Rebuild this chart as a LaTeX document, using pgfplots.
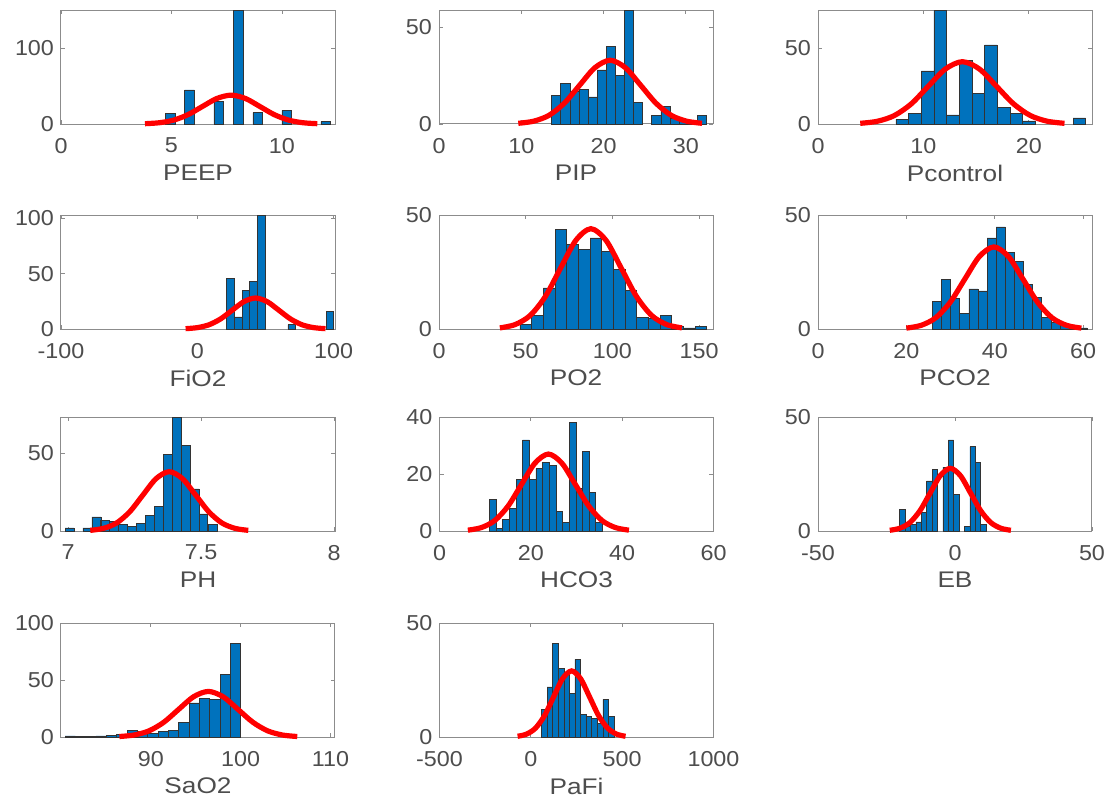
\documentclass[border=0pt]{standalone}
\usepackage{pgfplots}
\pgfplotsset{compat=1.18}
\usepackage{fontspec}
\setmainfont{Liberation Sans}[FakeStretch=1.08]
\newfontfamily\labfont{Liberation Sans}[FakeStretch=1.16]
\definecolor{mblue}{HTML}{0072BD}
\definecolor{axgray}{HTML}{8C8C8C}
\definecolor{txtgray}{HTML}{4D4D4D}
\newcommand{\fs}{\fontsize{10.8}{12}\selectfont}
\newcommand{\fl}{\labfont\fontsize{11.3}{13}\selectfont}
\pgfplotsset{
 hp/.style={scale only axis, width=137pt, height=57pt, ymin=0, clip=false,
   axis line style={axgray, line width=0.5pt}, tick style={axgray, line width=0.4pt},
   tick align=inside, major tick length=2.2pt,
   ticklabel style={font=\fs, text=txtgray}, xlabel style={font=\fl, text=txtgray, yshift=1pt},
   scaled ticks=false, /pgf/number format/1000 sep={}, /pgf/number format/assume math mode=true,
   xticklabel style={yshift=-3.5pt}, anchor=north west},
 bars/.style={ybar, bar shift=0pt, fill=mblue, draw=black!80, line width=0.3pt},
 fit/.style={red, line width=2.6pt, smooth, mark=none},
}
\begin{document}
\begin{tikzpicture}
\useasboundingbox (0,0) rectangle (555pt,-402pt);
% PEEP
\begin{axis}[hp, at={(30.5pt,-5pt)}, xmin=0, xmax=12.4, ymax=150, xtick={0,5,10}, ytick={0,100}, xlabel={PEEP}]
\addplot[bars, bar width=0.44] coordinates {(4.94,14) (5.82,45) (7.14,30) (8.02,150) (8.90,15) (10.22,18) (11.98,3)};
\addplot[fit] coordinates {(3.8,0.42) (4.45,1.67) (5.1,5.14) (5.75,12.34) (6.4,23.05) (7.05,33.54) (7.7,38) (8.35,33.54) (9.0,23.05) (9.65,12.34) (10.3,5.14) (10.95,1.67) (11.6,0.42)};
\end{axis}
% PIP
\begin{axis}[hp, at={(219.5pt,-5pt)}, xmin=0, xmax=33.3, ymax=59, xtick={0,10,20,30}, ytick={0,50}, xlabel={PIP}]
\addplot[bars, bar width=1.106] coordinates {(14.24,15) (15.35,21) (16.46,17) (17.56,18) (18.67,14) (19.77,28) (20.88,40) (21.98,25) (23.09,59) (24.20,11) (26.41,4.6) (27.52,9) (28.62,3) (29.73,2) (30.83,2) (31.94,4.6)};
\addplot[fit] coordinates {(9.64,0.37) (11.5,1.45) (13.36,4.46) (15.22,10.72) (17.08,20.01) (18.94,29.12) (20.8,33) (22.66,29.12) (24.52,20.01) (26.38,10.72) (28.24,4.46) (30.1,1.45) (31.96,0.37)};
\end{axis}
% Pcontrol
\begin{axis}[hp, at={(409pt,-5pt)}, xmin=0, xmax=26, ymax=75, xtick={0,10,20}, ytick={0,50}, xlabel={Pcontrol}]
\addplot[bars, bar width=1.2] coordinates {(8.0,3) (9.2,7) (10.4,35) (11.6,75) (12.8,6) (14.0,42) (15.2,20) (16.4,52) (17.6,11) (18.8,7) (20.0,2) (24.8,4)};
\addplot[fit] coordinates {(4.01,0.46) (5.63,1.80) (7.24,5.55) (8.86,13.31) (10.47,24.87) (12.09,36.18) (13.7,41) (15.32,36.18) (16.93,24.87) (18.55,13.31) (20.16,5.55) (21.78,1.80) (23.39,0.46)};
\end{axis}
% FiO2
\begin{axis}[hp, at={(30.5pt,-107.5pt)}, xmin=-100, xmax=101, ymax=103, xtick={-100,0,100}, ytick={0,50,100}, xlabel={FiO2}]
\addplot[bars, bar width=5.6] coordinates {(24.4,46) (30.0,11) (35.6,35) (41.2,43) (46.8,103) (69.2,4) (97.2,16)};
\addplot[fit] coordinates {(-8.6,0.31) (-0.05,1.23) (8.5,3.79) (17.05,9.09) (25.6,16.98) (34.15,24.71) (42.7,28) (51.25,24.71) (59.8,16.98) (68.35,9.09) (76.9,3.79) (85.45,1.23) (94.0,0.31)};
\end{axis}
% PO2
\begin{axis}[hp, at={(219.5pt,-107.5pt)}, xmin=0, xmax=158, ymax=50, xtick={0,50,100,150}, ytick={0,50}, xlabel={PO2}]
\addplot[bars, bar width=6.73] coordinates {(50.07,2) (56.80,6) (63.53,18) (70.26,43.6) (76.99,37) (83.72,35) (90.45,40) (97.18,34) (103.91,26) (110.64,17) (117.37,5) (124.10,4.5) (130.83,6) (137.56,1) (144.29,0.5) (151.02,1)};
\addplot[fit] coordinates {(35.1,0.49) (43.85,1.93) (52.6,5.95) (61.35,14.29) (70.1,26.69) (78.85,38.83) (87.6,44) (96.35,38.83) (105.1,26.69) (113.85,14.29) (122.6,5.95) (131.35,1.93) (140.1,0.49)};
\end{axis}
% PCO2
\begin{axis}[hp, at={(409pt,-107.5pt)}, xmin=0, xmax=62, ymax=50, xtick={0,20,40,60}, ytick={0,50}, xlabel={PCO2}]
\addplot[bars, bar width=2.06] coordinates {(26.93,12) (28.99,21.6) (31.05,13.4) (33.11,6.7) (35.17,17.6) (37.23,16.7) (39.29,40) (41.35,44.8) (43.41,33.6) (45.47,29.5) (47.53,19.4) (49.59,13.7) (51.65,5) (53.71,3) (55.77,2) (57.83,1) (59.89,0.5)};
\addplot[fit] coordinates {(20.0,0.40) (23.3,1.58) (26.6,4.87) (29.9,11.69) (33.2,21.83) (36.5,31.77) (39.8,36) (43.1,31.77) (46.4,21.83) (49.7,11.69) (53.0,4.87) (56.3,1.58) (59.6,0.40)};
\end{axis}
% PH
\begin{axis}[hp, at={(30.5pt,-208.5pt)}, xmin=6.973, xmax=8.003, ymax=73, xtick={7,7.5,8}, ytick={0,50}, xlabel={PH}]
\addplot[bars, bar width=0.03353] coordinates {(7.005,2) (7.072,2) (7.106,9) (7.139,7) (7.173,6) (7.206,4) (7.240,3) (7.274,5) (7.307,10) (7.341,16) (7.374,49) (7.408,73) (7.441,55) (7.475,27) (7.508,11) (7.542,4)};
\addplot[fit] coordinates {(7.083,0.42) (7.1325,1.67) (7.182,5.14) (7.2315,12.34) (7.281,23.05) (7.3305,33.54) (7.38,38) (7.4295,33.54) (7.479,23.05) (7.5285,12.34) (7.578,5.14) (7.6275,1.67) (7.677,0.42)};
\end{axis}
% HCO3
\begin{axis}[hp, at={(219.75pt,-208.5pt)}, xmin=0, xmax=60, ymax=40, xtick={0,20,40,60}, ytick={0,20,40}, xlabel={HCO3}]
\addplot[bars, bar width=1.4556] coordinates {(11.66,11) (13.11,1) (14.57,4) (16.03,8) (17.48,18) (18.94,32) (20.39,18) (21.85,22) (23.30,24) (24.76,23) (26.22,7) (27.67,3) (29.13,38) (30.58,15) (32.04,28) (33.49,13.5) (34.95,3)};
\addplot[fit] coordinates {(6.21,0.30) (9.15,1.19) (12.09,3.65) (15.03,8.77) (17.97,16.38) (20.91,23.83) (23.85,27) (26.79,23.83) (29.73,16.38) (32.67,8.77) (35.61,3.65) (38.55,1.19) (41.49,0.30)};
\end{axis}
% EB
\begin{axis}[hp, at={(409pt,-208.5pt)}, xmin=-50, xmax=50, ymax=50, xtick={-50,0,50}, ytick={0,50}, xlabel={EB}]
\addplot[bars, bar width=1.97] coordinates {(-19.20,9.4) (-17.23,2) (-15.26,3) (-13.29,4) (-11.32,8) (-9.35,22) (-7.38,27) (-3.44,28) (-1.47,40) (0.50,16) (4.44,2) (6.41,37) (8.38,30) (10.35,3)};
\addplot[fit] coordinates {(-23.81,0.31) (-20.13,1.21) (-16.44,3.72) (-12.76,8.93) (-9.07,16.68) (-5.39,24.27) (-1.7,27.5) (1.99,24.27) (5.67,16.68) (9.36,8.93) (13.04,3.72) (16.73,1.21) (20.41,0.31)};
\end{axis}
% SaO2
\begin{axis}[hp, at={(30.5pt,-311.5pt)}, xmin=80, xmax=110.5, ymax=100, xtick={90,100,110}, ytick={0,50,100}, xlabel={SaO2}]
\addplot[bars, bar width=1.15] coordinates {(81.03,1) (82.18,0.5) (83.33,0.5) (84.48,1) (85.63,1.5) (86.78,2) (87.93,6) (89.08,5) (90.23,3) (91.38,5) (92.53,6) (93.68,13) (94.83,30) (95.98,34) (97.13,33) (98.28,55) (99.43,82)};
\addplot[fit] coordinates {(86.5,0.44) (88.15,1.76) (89.8,5.41) (91.45,12.99) (93.1,24.26) (94.75,35.3) (96.4,40) (98.05,35.3) (99.7,24.26) (101.35,12.99) (103.0,5.41) (104.65,1.76) (106.3,0.44)};
\end{axis}
% PaFi
\begin{axis}[hp, at={(219.75pt,-311.5pt)}, xmin=-500, xmax=1000, ymax=50, xtick={-500,0,500,1000}, ytick={0,50}, xlabel={PaFi}]
\addplot[bars, bar width=30.5] coordinates {(73.9,12) (104.4,22) (134.9,41) (165.4,30) (195.9,28) (226.4,19) (256.9,34) (287.4,10) (317.9,9) (348.4,8) (378.9,6) (409.4,16.5) (439.9,9)};
\addplot[fit] coordinates {(-72.5,0.32) (-23.25,1.27) (26.0,3.92) (75.25,9.42) (124.5,17.59) (173.75,25.59) (223,29) (272.25,25.59) (321.5,17.59) (370.75,9.42) (420,3.92) (469.25,1.27) (518.5,0.32)};
\end{axis}
\end{tikzpicture}
\end{document}
